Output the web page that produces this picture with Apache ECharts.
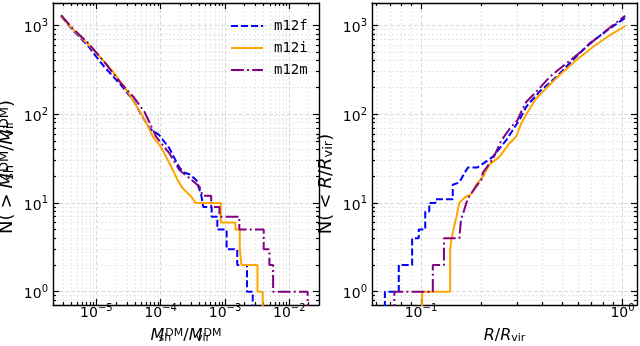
<!DOCTYPE html>
<html>
<head>
<meta charset="utf-8">
<script src="https://cdn.jsdelivr.net/npm/echarts@6/dist/echarts.min.js"></script>
<style>
  html, body { margin: 0; padding: 0; background: #fff; }
  #chart { width: 640px; height: 346px; }
</style>
</head>
<body>
<div id="chart"></div>
<script>
// axis ranges, in log10 units
const massRange = [-5.675, -1.538];
const radiusRange = [-1.243, 0.072];
const countRange = [-0.150, 3.251];

// legend entries
const haloNames = ['m12f', 'm12i', 'm12m'];

// N(>M_sh/M_vir) : [mass ratio, count]
const m12fMass = [[2.82e-6,1271],[4.3e-6,880],[7.3e-6,595],[1.0e-5,440],[1.33e-5,340],[2.42e-5,212],[3.9e-5,137],[4.7e-5,106],[6.7e-5,69],[9.5e-5,58],[1.37e-4,41],[1.95e-4,25],[2.3e-4,22],[2.8e-4,21],[3.6e-4,18],[4.3e-4,12],[4.6e-4,9],[6.2e-4,9],[6.2e-4,7],[7.6e-4,7],[7.6e-4,5],[1.06e-3,5],[1.06e-3,3],[1.55e-3,3],[1.55e-3,2],[2.2e-3,2],[2.2e-3,1],[2.7e-3,1],[2.7e-3,0.3]];
const m12iMass = [[2.82e-6,1271],[4.3e-6,900],[7.3e-6,620],[1.05e-5,469],[1.9e-5,287],[3.07e-5,178],[5.0e-5,100],[6.4e-5,72],[7.5e-5,56],[1.0e-4,43],[1.3e-4,30],[1.54e-4,23.5],[1.84e-4,18],[2.2e-4,14.6],[2.97e-4,11.8],[3.5e-4,10],[8.6e-4,10],[8.6e-4,6],[1.45e-3,6],[1.45e-3,5],[1.7e-3,5],[1.7e-3,3],[1.8e-3,3],[1.8e-3,2],[3.2e-3,2],[3.2e-3,1],[3.86e-3,1],[3.86e-3,0.3]];
const m12mMass = [[2.82e-6,1300],[4.3e-6,918],[7.3e-6,640],[1.33e-5,387],[2.42e-5,221],[3.8e-5,155],[5.6e-5,106],[8.5e-5,55.6],[1.37e-4,36],[1.95e-4,23.5],[2.8e-4,19],[4.0e-4,15.3],[4.5e-4,12],[6.1e-4,12],[6.1e-4,9],[8.2e-4,9],[8.2e-4,7],[1.67e-3,7],[1.67e-3,5],[4.0e-3,5],[4.0e-3,3],[4.9e-3,3],[4.9e-3,2],[5.6e-3,2],[5.6e-3,1],[1.93e-2,1],[1.93e-2,0.3]];

// N(<R/R_vir) : [radius ratio, count]
const m12fRadius = [[0.0662,0.3],[0.0662,1],[0.0776,1],[0.0776,2],[0.0904,2],[0.0904,4],[0.0975,4],[0.0975,5],[0.105,5],[0.105,8],[0.110,8],[0.110,10],[0.118,10],[0.118,11],[0.1438,11],[0.1438,16],[0.155,17],[0.165,22],[0.171,25],[0.19,25],[0.2,27],[0.227,33],[0.265,51],[0.308,86],[0.333,121],[0.387,178],[0.469,262],[0.566,404],[0.685,622],[0.863,918],[1.032,1210]];
const m12iRadius = [[0.1014,0.3],[0.1014,1],[0.1396,1],[0.1396,3],[0.142,4],[0.145,5],[0.150,7],[0.155,10],[0.165,11.5],[0.177,12.5],[0.188,16],[0.203,19.8],[0.219,27],[0.245,33],[0.275,47],[0.297,56],[0.314,78],[0.339,106],[0.373,150],[0.418,195],[0.486,274],[0.589,404],[0.713,570],[0.863,772],[1.032,982]];
const m12mRadius = [[0.0738,0.3],[0.0738,1],[0.1145,1],[0.1145,2],[0.130,2],[0.130,4],[0.155,4],[0.158,6.5],[0.163,8],[0.168,10],[0.174,12],[0.188,15.3],[0.199,18],[0.203,22],[0.227,31],[0.25,50],[0.275,68],[0.302,86],[0.314,106],[0.333,137],[0.373,178],[0.435,262],[0.526,371],[0.635,524],[0.74,708],[0.895,1000],[1.032,1279]];

const FONT = 'DejaVu Sans';
const colors = { m12f: '#0000ff', m12i: '#ffa500', m12m: '#800080' };
const dashes = { m12f: [7, 3], m12i: 'solid', m12m: [12.8, 3.2, 2, 3.2] };

const logPts = pts => pts.map(p => [Math.log10(p[0]), Math.log10(p[1])]);

// tick positions (log10 units)
function decadeTicks(lo, hi) {
  const out = [];
  for (let d = Math.ceil(lo); d <= Math.floor(hi); d++) out.push(d);
  return out;
}
function minorTicks(lo, hi) {
  const out = [];
  for (let d = Math.floor(lo); d <= Math.ceil(hi); d++) {
    for (let k = 2; k <= 9; k++) {
      const v = d + Math.log10(k);
      if (v > lo && v < hi) out.push(v);
    }
  }
  return out;
}
function powLabel(v) {
  const e = Math.round(v);
  return '{b|10}{e|' + (e < 0 ? '\u2212' + (-e) : e) + '}';
}

const tickRich = {
  b: { fontFamily: FONT, fontSize: 14, lineHeight: 14, padding: [6, 0, 0, 0], color: '#000' },
  e: { fontFamily: FONT, fontSize: 10, lineHeight: 10, verticalAlign: 'top', color: '#000' }
};
// math-like label styles: n upright, r relation, i italic, sb/ss subscript, sp superscript
function mathRich(size) {
  const small = Math.round(size * 0.7);
  const pad = Math.round(size * 0.2);
  return {
    n: { fontFamily: FONT, fontSize: size, lineHeight: size, padding: [pad, 0, pad, 0], color: '#000' },
    r: { fontFamily: FONT, fontSize: size, lineHeight: size, padding: [pad, pad + 1, pad, pad + 1], color: '#000' },
    i: { fontFamily: FONT, fontStyle: 'italic', fontSize: size, lineHeight: size, padding: [pad, 0, pad, 0], color: '#000' },
    sb: { fontFamily: FONT, fontSize: small, lineHeight: small, verticalAlign: 'bottom', color: '#000' },
    ss: { fontFamily: FONT, fontSize: small, lineHeight: small, verticalAlign: 'bottom', width: 1, color: '#000' },
    sp: { fontFamily: FONT, fontSize: small, lineHeight: small, verticalAlign: 'top', color: '#000' }
  };
}

// 4 axes per direction: major+minor on both sides
function makeAxes(dim, grid, range, name, nameGap, nameSize, namePad) {
  const lo = range[0], hi = range[1];
  const major = decadeTicks(lo, hi);
  const minor = minorTicks(lo, hi);
  const sides = dim === 'x' ? ['bottom', 'top'] : ['left', 'right'];
  const base = { type: 'value', gridIndex: grid, min: lo, max: hi };
  const frame = { show: true, onZero: false, lineStyle: { color: '#000', width: 1.4 } };
  const noLine = { show: false, onZero: false };
  const tickLine = { color: '#000', width: 1.2 };
  return [
    Object.assign({}, base, {
      position: sides[0],
      axisLine: frame,
      axisTick: { customValues: major, inside: true, length: 6, lineStyle: tickLine },
      axisLabel: { customValues: major, formatter: powLabel, margin: dim === 'x' ? -2 : 5, rich: tickRich },
      splitLine: { show: true, lineStyle: { color: '#cfcfcf', width: 0.8, type: [4, 2] } },
      name: name,
      nameLocation: 'middle',
      nameGap: nameGap,
      nameRotate: dim === 'y' ? 90 : 0,
      nameTextStyle: { rich: mathRich(nameSize), padding: namePad }
    }),
    Object.assign({}, base, {
      position: sides[0],
      axisLine: noLine,
      axisTick: { customValues: minor, inside: true, length: 3, lineStyle: tickLine },
      axisLabel: { show: false },
      splitLine: { show: true, lineStyle: { color: '#e0e0e0', width: 0.8, type: [2, 2] } }
    }),
    Object.assign({}, base, {
      position: sides[1],
      axisLine: frame,
      axisTick: { customValues: major, inside: true, length: 6, lineStyle: tickLine },
      axisLabel: { show: false },
      splitLine: { show: false }
    }),
    Object.assign({}, base, {
      position: sides[1],
      axisLine: noLine,
      axisTick: { customValues: minor, inside: true, length: 3, lineStyle: tickLine },
      axisLabel: { show: false },
      splitLine: { show: false }
    })
  ];
}

function curve(name, pts, axisIndex) {
  return {
    type: 'line',
    name: name,
    xAxisIndex: axisIndex,
    yAxisIndex: axisIndex,
    data: logPts(pts),
    symbol: 'none',
    showSymbol: false,
    clip: true,
    itemStyle: { color: colors[name] },
    lineStyle: { color: colors[name], width: 2, type: dashes[name] }
  };
}

const chart = echarts.init(document.getElementById('chart'));

chart.setOption({
  animation: false,
  backgroundColor: '#fff',
  grid: [
    { left: 53, top: 3, width: 266, height: 302, containLabel: false, outerBoundsMode: 'none' },
    { left: 372, top: 3, width: 265, height: 302, containLabel: false, outerBoundsMode: 'none' }
  ],
  legend: {
    data: haloNames,
    orient: 'vertical',
    left: 225,
    top: 14,
    itemWidth: 32,
    itemHeight: 14,
    itemGap: 8,
    itemStyle: { opacity: 0 },
    textStyle: { fontFamily: 'DejaVu Sans Mono', fontSize: 14, color: '#000', padding: [0, 0, 0, 6] }
  },
  xAxis: [].concat(
    makeAxes('x', 0, massRange, '{i|M}{ss|sh}{sp|DM}{n|/}{i|M}{ss|vir}{sp|DM}', 22, 16, 0),
    makeAxes('x', 1, radiusRange, '{i|R}{n|/}{i|R}{sb|vir}', 22, 16, 0)
  ),
  yAxis: [].concat(
    makeAxes('y', 0, countRange, '{n|N(}{r|>}{i|M}{ss|sh}{sp|DM}{n|/}{i|M}{ss|vir}{sp|DM}{n|)}', 19, 18, [0, 26, 0, 0]),
    makeAxes('y', 1, countRange, '{n|N(}{r|<}{i|R}{n|/}{i|R}{sb|vir}{n|)}', 19, 18, [0, 60, 0, 0])
  ),
  series: [
    curve('m12f', m12fMass, 0),
    curve('m12i', m12iMass, 0),
    curve('m12m', m12mMass, 0),
    curve('m12f', m12fRadius, 4),
    curve('m12i', m12iRadius, 4),
    curve('m12m', m12mRadius, 4)
  ]
});
</script>
</body>
</html>
